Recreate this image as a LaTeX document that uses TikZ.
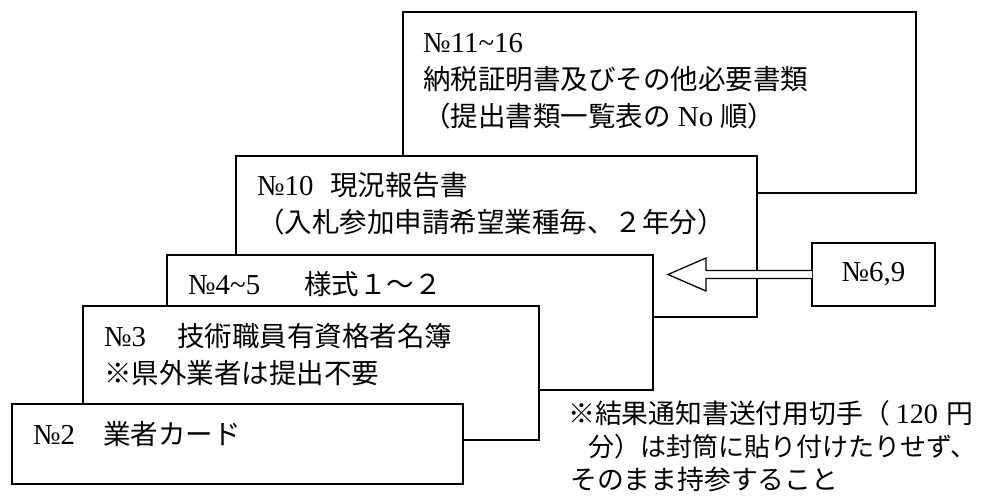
\documentclass[tikz,border=0pt]{standalone}
\usepackage{fontspec}
\setmainfont{Liberation Serif}[Scale=1.05]
\newfontfamily\jp{Noto Sans CJK JP}
\usetikzlibrary{calc}
\newcommand{\tld}{\textasciitilde}
\tikzset{
  box/.style={draw=black, line width=1.6pt, fill=white, inner sep=0pt, outer sep=0pt, anchor=north west},
  txt/.style={anchor=base west, inner sep=0pt, font=\fontsize{27.5pt}{37pt}\selectfont},
  notetxt/.style={anchor=base west, inner sep=0pt, font=\fontsize{26.8pt}{33pt}\selectfont},
  blockarrow/.style={draw=black, line width=1.3pt, fill=white, line join=miter},
}
\begin{document}
\begin{tikzpicture}[x=1pt, y=-1pt]
\useasboundingbox (0,0) rectangle (986,502);
% stacked boxes, back to front
\node[box, minimum width=513pt, minimum height=181pt] (b1116) at (403,12) {};
\node[txt] (t1116a) at (423,53) {№11\tld16};
\node[txt] (t1116b) at (423,90) {\jp 納税証明書及びその他必要書類};
\node[txt] (t1116c) at (423,127) {{\jp （提出書類一覧表の} No {\jp 順）}};

\node[box, minimum width=521pt, minimum height=161pt] (b10) at (236,156) {};
\node[txt] (t10a) at (257,196) {\makebox[73pt][l]{№10}{\jp 現況報告書}};
\node[txt] (t10b) at (257,233) {\jp （入札参加申請希望業種毎、２年分）};

\node[box, minimum width=486pt, minimum height=135pt] (b45) at (167,255) {};
\node[txt] (t45) at (188,295) {\makebox[116pt][l]{№4\tld5}{\jp 様式１～２}};

\node[box, minimum width=456pt, minimum height=134pt] (b3) at (83,306) {};
\node[txt] (t3a) at (104,347) {\makebox[73pt][l]{№3}{\jp 技術職員有資格者名簿}};
\node[txt] (t3b) at (104,384) {\jp ※県外業者は提出不要};

\node[box, minimum width=451pt, minimum height=80pt] (b2) at (12,404) {};
\node[txt] (t2) at (33,445) {\makebox[70pt][l]{№2}{\jp 業者カード}};

% side box and hollow arrow
\node[box, minimum width=123pt, minimum height=63pt] (b69) at (812,243) {};
\node[txt, anchor=center] (t69) at (b69.center) {№6,9};
\coordinate (tip) at (668,274.5);
\draw[blockarrow] ($(b69.west)+(0,4)$) -- ($(tip)+(38,4)$) -- ($(tip)+(38,16.5)$) -- (tip)
  -- ($(tip)+(38,-16.5)$) -- ($(tip)+(38,-4)$) -- ($(b69.west)+(0,-4)$);

% note
\node[notetxt] (n1) at (568,424) {{\jp ※結果通知書送付用切手（}\hspace{6pt}120\hspace{8pt}{\jp 円}};
\node[notetxt, font=\fontsize{26pt}{33pt}\selectfont] (n2) at (588,457) {\jp 分）は封筒に貼り付けたりせず、};
\node[notetxt] (n3) at (570,490) {\jp そのまま持参すること};
\end{tikzpicture}
\end{document}
